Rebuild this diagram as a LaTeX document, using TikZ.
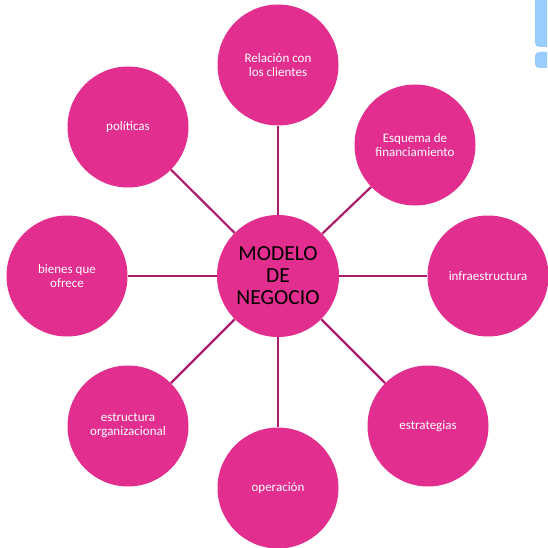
\documentclass[tikz,border=0pt]{standalone}
\usepackage{fontspec}
\setmainfont{Carlito}
\begin{document}
\begin{tikzpicture}[x=1pt,y=-1pt,
  hub/.style={circle,fill=hubpink,minimum size=122pt,inner sep=0pt,align=center,
    font=\fontsize{21.5}{22}\selectfont,text=black},
  leaf/.style={circle,fill=hubpink,minimum size=121pt,inner sep=0pt,align=center,
    font=\fontsize{13}{14}\selectfont,text=white},
  spoke/.style={draw=spokecol,line width=2.2pt}]
\definecolor{hubpink}{RGB}{226,46,143}
\definecolor{spokecol}{RGB}{170,28,108}
\definecolor{tabblue}{RGB}{153,204,255}
\useasboundingbox (0,0) rectangle (547,548);
% side tabs at the top right edge
\begin{scope}
  \clip (0,0) rectangle (547,548);
  \fill[tabblue,rounded corners=4pt] (535,-10) rectangle (560,47);
  \fill[tabblue,rounded corners=4pt] (535,52) rectangle (560,68);
\end{scope}
% nodes
\node[hub]  (c)  at (278,276) {MODELO\\DE\\NEGOCIO};
\node[leaf] (n)  at (278,65)  {Relación con\\los clientes};
\node[leaf] (ne) at (415,145) {Esquema de\\financiamiento};
\node[leaf] (e)  at (488,276) {infraestructura};
\node[leaf] (se) at (428,426) {estrategias};
\node[leaf] (s)  at (278,488) {operación};
\node[leaf] (sw) at (128,426) {estructura\\organizacional};
\node[leaf] (w)  at (67,276)  {bienes que\\ofrece};
\node[leaf] (nw) at (128,127) {políticas};
% spokes
\foreach \t in {n,ne,e,se,s,sw,w,nw}
  \draw[spoke] (c) -- (\t);
\end{tikzpicture}
\end{document}
